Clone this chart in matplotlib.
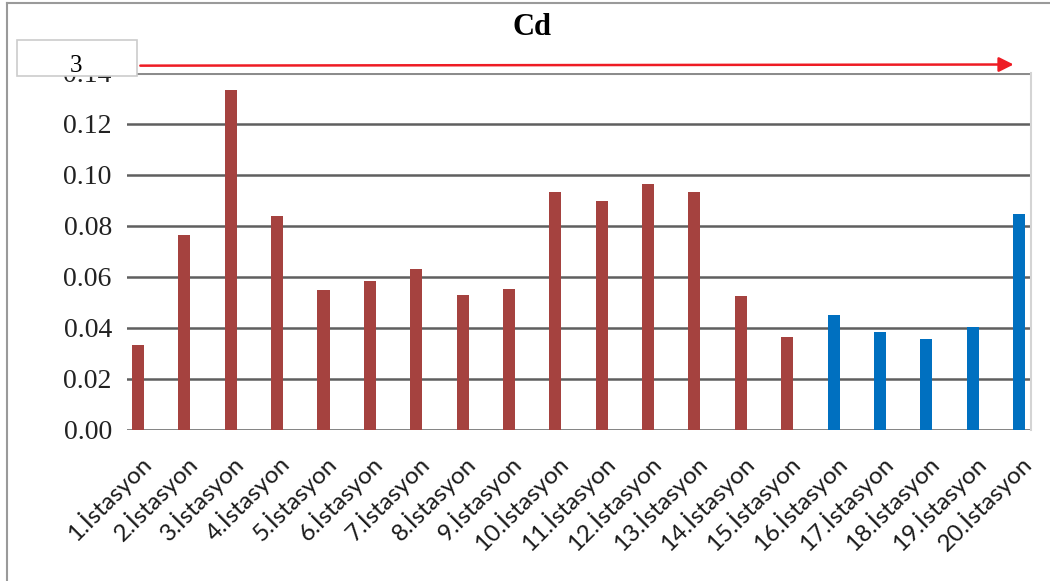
import matplotlib.pyplot as plt
from matplotlib.lines import Line2D
from matplotlib.patches import Rectangle, FancyArrowPatch

stations = [f"{i}.İstasyon" for i in range(1, 21)]
cd_values = [0.0333, 0.0766, 0.1333, 0.0840, 0.0549, 0.0583, 0.0631,
             0.0531, 0.0552, 0.0933, 0.0899, 0.0965, 0.0932, 0.0527,
             0.0366, 0.0451, 0.0386, 0.0358, 0.0405, 0.0847]
yticks = [0.00, 0.02, 0.04, 0.06, 0.08, 0.10, 0.12, 0.14]

bar_colors = ['#a5423f'] * 15 + ['#0070c0'] * 5

fig = plt.figure(figsize=(10.5, 5.81), dpi=100)
ax = fig.add_axes([0.121, 0.26, 0.861, 0.6144])

x = range(len(stations))
ax.bar(x, cd_values, width=0.26, color=bar_colors, zorder=3)

ax.set_ylim(0, 0.14)
ax.set_xlim(-0.237, 19.26)
ax.set_yticks(yticks)
ax.set_yticklabels([f"{v:.2f}" for v in yticks], family='Liberation Serif',
                   fontsize=20, color='#222222')
for v in yticks[:-1]:
    ax.axhline(v, color='#5f5f5f', lw=1.8, zorder=2)
ax.axhline(0.14, color='#8c8c8c', lw=2.2, zorder=2)
ax.tick_params(axis='y', length=0, pad=11)
ax.tick_params(axis='x', length=0, pad=15)

ax.set_xticks(list(x))
ax.set_xticklabels(stations, rotation=45, ha='right', va='top',
                   rotation_mode='anchor', family='Lato', fontsize=17.5,
                   color='#1a1a1a')

for side in ['left', 'top', 'bottom']:
    ax.spines[side].set_visible(False)
ax.spines['right'].set_color('#d4d4d4')
ax.spines['right'].set_linewidth(1.5)

fig.text(0.507, 0.953, "Cd", ha='center', va='center',
         family='Liberation Serif', fontweight='bold', fontsize=22)

# figure frame (left and top edges)
fig.add_artist(Line2D([0.007, 0.007], [0, 0.994], color='#9a9a9a', lw=1.5,
                      transform=fig.transFigure))
fig.add_artist(Line2D([0.007, 1.0], [0.994, 0.994], color='#9a9a9a', lw=1.5,
                      transform=fig.transFigure))

# the overlay box with "3" and red arrow
fig.add_artist(Rectangle((0.016, 0.869), 0.114, 0.062, transform=fig.transFigure,
                         facecolor='white', edgecolor='#cccccc', lw=1.2,
                         zorder=10))
fig.text(0.072, 0.887, "3", ha='center', va='center',
         family='Liberation Serif', fontsize=18, zorder=11)
fig.add_artist(FancyArrowPatch((0.131, 0.887), (0.968, 0.889),
                               transform=fig.transFigure, color='#ee1c24',
                               lw=1.8, arrowstyle='-|>', mutation_scale=22,
                               zorder=11))

fig.savefig('out.png', dpi=100)
